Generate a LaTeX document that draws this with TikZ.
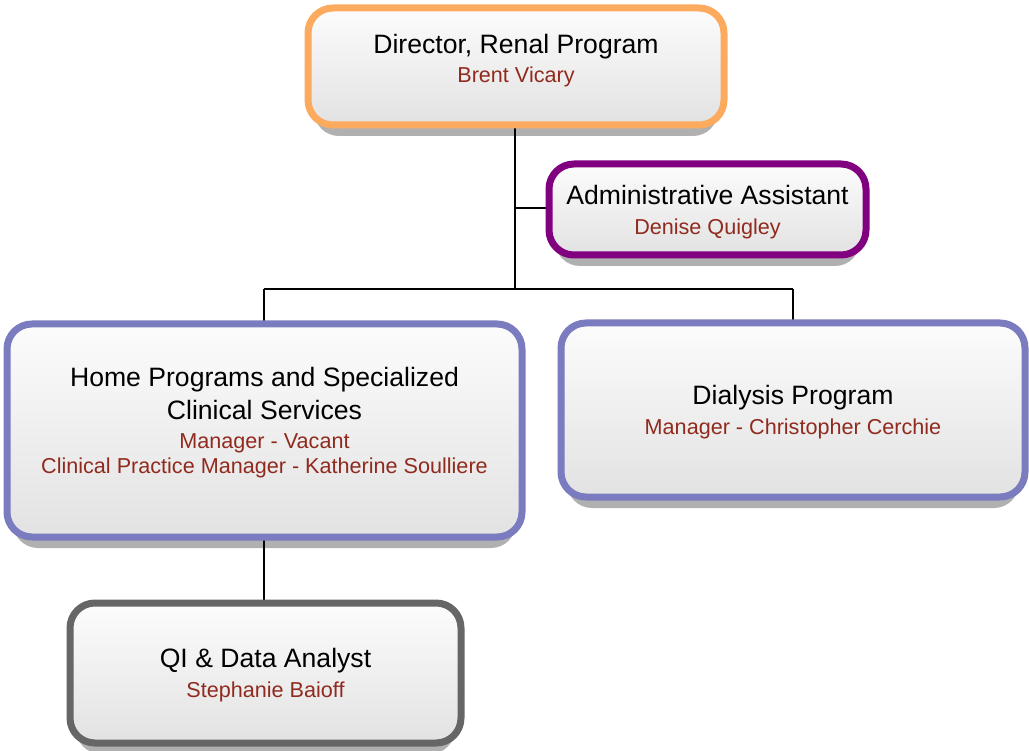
\documentclass[tikz,border=0pt]{standalone}
\usepackage{fontspec}
\setmainfont{Liberation Sans}
\usetikzlibrary{backgrounds,calc}
\definecolor{orangeC}{RGB}{252,170,94}
\definecolor{purpleC}{RGB}{128,0,128}
\definecolor{blueC}{RGB}{123,123,191}
\definecolor{grayC}{RGB}{102,102,102}
\definecolor{redT}{RGB}{145,42,30}
\definecolor{shadowC}{RGB}{176,176,176}
\definecolor{fillTop}{RGB}{252,252,252}
\definecolor{fillBot}{RGB}{226,226,226}
\tikzset{
  orgbox/.style={draw=#1, line width=7pt, rounded corners=25pt, rectangle,
    top color=fillTop, bottom color=fillBot, outer sep=0pt, inner sep=0pt},
  titletext/.style={anchor=base, inner sep=0pt, font=\fontsize{26.6}{31}\selectfont},
  redtext/.style={anchor=base, inner sep=0pt, text=redT, font=\fontsize{21.6}{25}\selectfont},
  conn/.style={draw=black, line width=2pt},
  shadowbox/.style={fill=shadowC, rounded corners=25pt}
}
\begin{document}
\begin{tikzpicture}[x=1pt,y=-1pt]
\useasboundingbox (0,0) rectangle (1029,751);
% boxes
\node[orgbox=orangeC, minimum width=416pt, minimum height=117pt] (dir) at (516,66.5) {};
\node[orgbox=purpleC, minimum width=317pt, minimum height=91pt] (admin) at (707.5,209.5) {};
\node[orgbox=blueC, minimum width=515pt, minimum height=213pt] (home) at (264.5,430.5) {};
\node[orgbox=blueC, minimum width=464pt, minimum height=174pt] (dial) at (793,410) {};
\node[orgbox=grayC, minimum width=391pt, minimum height=140pt] (qi) at (265.5,673) {};
% texts
\node[titletext] (dirT) at (516,54) {Director, Renal Program};
\node[redtext] (dirR) at (516,83) {Brent Vicary};
\node[titletext] (adminT) at (707.5,205) {Administrative Assistant};
\node[redtext] (adminR) at (707.5,235) {Denise Quigley};
\node[titletext] (homeT1) at (264.5,387) {Home Programs and Specialized};
\node[titletext] (homeT2) at (264.5,420) {Clinical Services};
\node[redtext] (homeR1) at (264.5,449) {Manager - Vacant};
\node[redtext] (homeR2) at (264.5,474) {Clinical Practice Manager - Katherine Soulliere};
\node[titletext] (dialT) at (793,405) {Dialysis Program};
\node[redtext] (dialR) at (793,435) {Manager - Christopher Cerchie};
\node[titletext] (qiT) at (265.5,667) {QI \& Data Analyst};
\node[redtext] (qiR) at (265.5,697) {Stephanie Baioff};
% junctions
\coordinate (j1) at (515,208);
\coordinate (j2) at (515,289);
\coordinate (bl) at (264,289);
\coordinate (br) at (793,289);
\begin{scope}[on background layer]
  \foreach \n in {dir,admin,home,dial,qi}{
    \fill[shadowbox] ($(\n.north west)+(6,8)$) rectangle ($(\n.south east)+(-6,11)$);
  }
  \draw[conn] (j1 |- dir.south) -- (j2);
  \draw[conn] (j1) -- (admin.west |- j1);
  \draw[conn] (bl) -- (br);
  \draw[conn] (bl) -- (bl |- home.north);
  \draw[conn] (br) -- (dial.north);
  \draw[conn] (bl |- home.south) -- (bl |- qi.north);
\end{scope}
\end{tikzpicture}
\end{document}
